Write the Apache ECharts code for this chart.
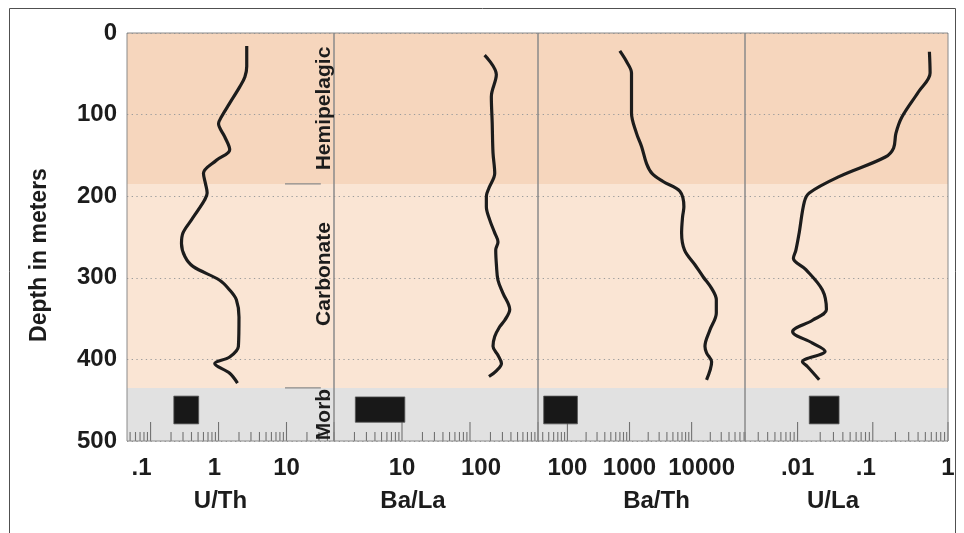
<!DOCTYPE html>
<html>
<head>
<meta charset="utf-8">
<script src="https://cdn.jsdelivr.net/npm/echarts@6/dist/echarts.min.js"></script>
<style>
  html, body { margin: 0; padding: 0; background: #fff; }
  #chart { width: 964px; height: 533px; }
</style>
</head>
<body>
<div id="chart"></div>
<script>
// ---- Depth profiles (depth in m, ratio) ----
const uthDepth  = [16, 41, 54, 66, 86, 103, 111, 127, 143, 156, 172, 184, 196, 205, 217, 229, 245, 258, 274, 286, 303, 315, 327, 348, 384, 397, 405, 417, 429];
const uthValue  = [2.6, 2.6, 2.44, 2.05, 1.46, 1.1, 1.0, 1.23, 1.46, 0.93, 0.6, 0.64, 0.68, 0.62, 0.5, 0.4, 0.3, 0.285, 0.32, 0.42, 1.04, 1.46, 1.83, 2.0, 1.96, 1.46, 0.88, 1.46, 1.9];

const balaDepth = [27, 51, 78, 110, 147, 172, 190, 200, 213, 229, 245, 256, 266, 285, 303, 319, 339, 352, 360, 372, 384, 395, 405, 414, 421];
const balaValue = [164, 244, 206, 212, 218, 231, 190, 174, 174, 195, 231, 258, 239, 245, 258, 306, 384, 324, 273, 231, 218, 258, 290, 244, 190];

const bathDepth = [22, 35, 49, 98, 123, 139, 160, 172, 182, 194, 213, 225, 245, 266, 284, 299, 313, 327, 343, 364, 384, 392, 403, 425];
const bathValue = [698, 895, 1077, 1077, 1297, 1563, 1880, 2300, 3470, 6470, 7510, 7160, 6900, 7700, 11300, 15400, 21000, 25000, 25000, 19700, 16400, 17400, 21000, 17400];

const ulaDepth  = [23, 49, 72, 103, 123, 141, 152, 176, 196, 207, 245, 266, 276, 290, 315, 339, 352, 366, 380, 390, 403, 409, 425];
const ulaValue  = [0.566, 0.578, 0.406, 0.244, 0.203, 0.189, 0.147, 0.0356, 0.0143, 0.0123, 0.0105, 0.0095, 0.0088, 0.0129, 0.0214, 0.0242, 0.0158, 0.0086, 0.0158, 0.0232, 0.0116, 0.0136, 0.0194];

// ---- MORB ranges: [ratio min, ratio max, depth top, depth bottom] ----
const uthMorb  = [0.22, 0.51, 445, 479];
const balaMorb = [2.06, 11, 446, 477];
const bathMorb = [41.5, 145, 445, 479];
const ulaMorb  = [0.0143, 0.0356, 445, 479];

// ---- Lithologic units ----
const zoneNames  = ['Hemipelagic', 'Carbonate', 'Morb'];
const zoneBounds = [0, 185, 435, 500];
const zoneColors = ['#f6d6bd', '#fae5d4', '#e1e1e1'];

// ---- Axis ticks ----
const depthTicks = [0, 100, 200, 300, 400, 500];
const uthLabels  = [0.1, 1, 10];
const balaLabels = [10, 100];
const bathLabels = [100, 1000, 10000];
const ulaLabels  = [0.01, 0.1, 1];

const FONT = '"Liberation Sans", Arial, Helvetica, sans-serif';
const INK = '#1c1c1c';

// vertical shift (px) of each unit name from its band centre
const zoneNameShift = [0, -12, 0];

// layout and label styling per panel (nudge: horizontal label shift in px)
const panels = [
  { name: 'U/Th',  depth: uthDepth,  value: uthValue,  morb: uthMorb,  labels: uthLabels,  min: 0.045, max: 50,    left: 127, width: 207, namePad: [0, 20, 0, 0], nudge: { '0.1': -9, '1': -4 } },
  { name: 'Ba/La', depth: balaDepth, value: balaValue, morb: balaMorb, labels: balaLabels, min: 1,     max: 1000,  left: 334, width: 204, namePad: [0, 46, 0, 0], nudge: { '100': 11 } },
  { name: 'Ba/Th', depth: bathDepth, value: bathValue, morb: bathMorb, labels: bathLabels, min: 33.6,  max: 72400, left: 538, width: 207, namePad: [0, 0, 0, 30], nudge: { '10000': 10 } },
  { name: 'U/La',  depth: ulaDepth,  value: ulaValue,  morb: ulaMorb,  labels: ulaLabels,  min: 0.002, max: 1,     left: 745, width: 203, namePad: [0, 27, 0, 0], nudge: { '0.1': -7 } }
];

function tidy(v) { return Number(Number(v).toPrecision(6)); }
function buildLabel(p) {
  const rich = {};
  const keyOf = {};
  Object.keys(p.nudge).forEach(function (k, idx) {
    const d = p.nudge[k];
    const key = 'n' + idx;
    keyOf[k] = key;
    rich[key] = {
      fontFamily: FONT, fontSize: 24, fontWeight: 'bold', color: INK,
      padding: d > 0 ? [0, 0, 0, 2 * d] : [0, -2 * d, 0, 0]
    };
  });
  return {
    rich: rich,
    formatter: function (v) {
      const r = tidy(v);
      if (p.labels.indexOf(r) < 0) return '';
      const txt = String(r).replace(/^0\./, '.');
      const key = keyOf[String(r)];
      return key ? '{' + key + '|' + txt + '}' : txt;
    }
  };
}
// 1..9 x 10^k positions inside an axis range, for the log tick comb
function logCombValues(min, max) {
  const out = [];
  for (let k = Math.floor(Math.log10(min)); k <= Math.ceil(Math.log10(max)); k++) {
    for (let m = 1; m <= 9; m++) {
      const v = tidy(m * Math.pow(10, k));
      if (v >= min * 0.999 && v <= max * 1.001) out.push(v);
    }
  }
  return out;
}
function isDecade(v) {
  const e = Math.log10(v);
  return Math.abs(e - Math.round(e)) < 1e-6;
}

const grids = [], xAxes = [], yAxes = [], series = [];

panels.forEach(function (p, i) {
  const lab = buildLabel(p);
  grids.push({
    left: p.left, width: p.width, top: 33, height: 408,
    show: true, z: 6, borderColor: '#8a8a8a', borderWidth: 1, backgroundColor: 'transparent',
    outerBoundsMode: 'none', containLabel: false
  });
  xAxes.push({
    type: 'log', logBase: 10, gridIndex: i, min: p.min, max: p.max,
    position: 'bottom',
    axisLine: { show: false }, axisTick: { show: false }, splitLine: { show: false },
    axisLabel: {
      showMinLabel: true, showMaxLabel: true, margin: 15,
      fontFamily: FONT, fontSize: 24, fontWeight: 'bold', color: INK,
      rich: lab.rich, formatter: lab.formatter
    },
    name: p.name, nameLocation: 'middle', nameGap: 48,
    nameTextStyle: { fontFamily: FONT, fontSize: 24, fontWeight: 'bold', color: INK, padding: p.namePad }
  });
  yAxes.push({
    type: 'value', gridIndex: i, inverse: true, min: 0, max: 500, interval: 100, z: 3,
    axisLine: { show: false }, axisTick: { show: false },
    splitLine: { show: true, lineStyle: { color: '#9c9c9c', width: 1, type: [1.3, 3.4] } },
    axisLabel: i === 0
      ? { show: true, margin: 10, fontFamily: FONT, fontSize: 24, fontWeight: 'bold', color: INK,
          lineHeight: 24, padding: [8, 0, 0, 0],
          formatter: function (v) { return depthTicks.indexOf(v) >= 0 ? String(v) : ''; } }
      : { show: false },
    name: i === 0 ? 'Depth in meters' : '',
    nameLocation: 'middle', nameRotate: 90, nameGap: 76,
    nameTextStyle: { fontFamily: FONT, fontSize: 23, fontWeight: 'bold', color: INK, padding: [0, 36, 0, 0] }
  });

  // depth profile with the unit bands behind it
  series.push({
    type: 'line', xAxisIndex: i, yAxisIndex: i, z: 4,
    data: p.depth.map(function (d, k) { return [p.value[k], d]; }),
    showSymbol: false, smooth: 0.35, silent: true,
    lineStyle: { color: INK, width: 3.2 },
    markArea: {
      silent: true, label: { show: false },
      data: zoneNames.map(function (n, k) {
        return [{ yAxis: zoneBounds[k], itemStyle: { color: zoneColors[k] } }, { yAxis: zoneBounds[k + 1] }];
      })
    }
  });

  // log tick comb along the bottom edge
  series.push({
    type: 'custom', xAxisIndex: i, yAxisIndex: i, z: 5, silent: true, clip: false,
    data: logCombValues(p.min, p.max).map(function (v) { return [v, 500]; }),
    renderItem: function (params, api) {
      const v = api.value(0);
      const pt = api.coord([v, api.value(1)]);
      const h = isDecade(v) ? 19 : 9;
      return { type: 'line', shape: { x1: pt[0], y1: pt[1], x2: pt[0], y2: pt[1] - h },
               style: { stroke: '#727272', lineWidth: 1.1 } };
    }
  });

  // MORB reference box
  series.push({
    type: 'custom', xAxisIndex: i, yAxisIndex: i, z: 5, silent: true,
    data: [p.morb],
    encode: { x: [0, 1], y: [2, 3] },
    renderItem: function (params, api) {
      const a = api.coord([api.value(0), api.value(2)]);
      const b = api.coord([api.value(1), api.value(3)]);
      return { type: 'rect', shape: { x: a[0], y: a[1], width: b[0] - a[0], height: b[1] - a[1] },
               style: { fill: '#181818', stroke: '#555', lineWidth: 0.8 } };
    }
  });
});

// unit boundary marks and unit names along the right side of the first panel
series.push({
  type: 'custom', xAxisIndex: 0, yAxisIndex: 0, z: 7, silent: true, clip: false,
  data: zoneBounds.slice(1, 3).map(function (d) { return [9.5, 32, d]; }),
  encode: { x: [0, 1], y: 2 },
  renderItem: function (params, api) {
    const a = api.coord([api.value(0), api.value(2)]);
    const b = api.coord([api.value(1), api.value(2)]);
    return { type: 'line', shape: { x1: a[0], y1: a[1], x2: b[0], y2: b[1] },
             style: { stroke: '#8a8a8a', lineWidth: 1.2 } };
  }
});
series.push({
  type: 'custom', xAxisIndex: 0, yAxisIndex: 0, z: 7, silent: true, clip: false,
  data: zoneNames.map(function (n, k) { return [panels[0].max, (zoneBounds[k] + zoneBounds[k + 1]) / 2, k]; }),
  renderItem: function (params, api) {
    const k = api.value(2);
    const pt = api.coord([api.value(0), api.value(1)]);
    return { type: 'text', x: pt[0] - 10, y: pt[1] + zoneNameShift[k], rotation: Math.PI / 2,
             style: { text: zoneNames[k], fontFamily: FONT, fontSize: 21, fontWeight: 'bold',
                      fill: INK, align: 'center', verticalAlign: 'middle' } };
  }
});

const chart = echarts.init(document.getElementById('chart'), null, { renderer: 'canvas' });
chart.setOption({
  animation: false,
  backgroundColor: '#ffffff',
  graphic: [{
    type: 'rect', silent: true, z: 10,
    shape: { x: 9.5, y: 8.5, width: 946, height: 540 },
    style: { fill: 'none', stroke: '#505050', lineWidth: 1 }
  }],
  grid: grids,
  xAxis: xAxes,
  yAxis: yAxes,
  series: series
});
</script>
</body>
</html>
